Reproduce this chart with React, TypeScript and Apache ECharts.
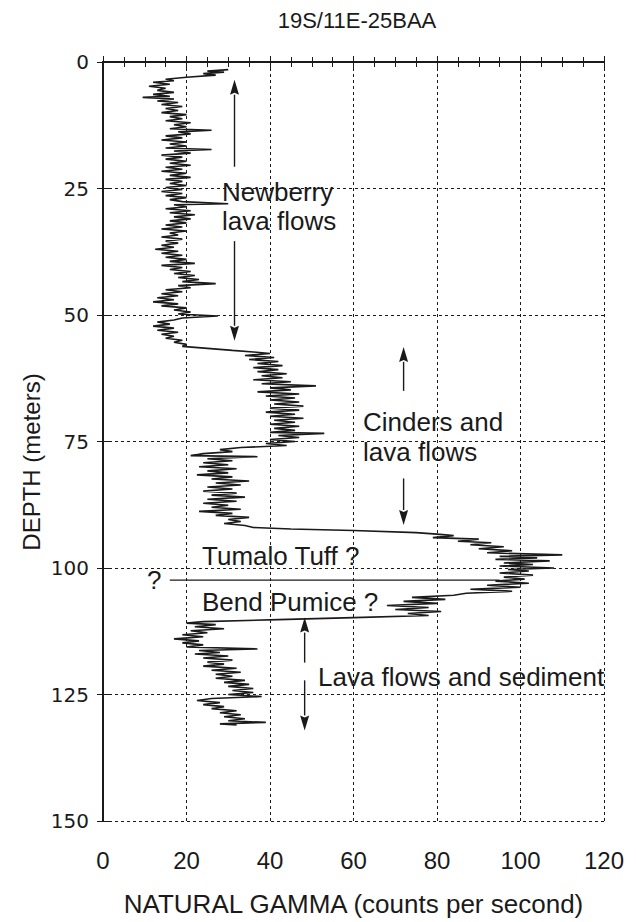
import React, { useEffect, useRef } from "react";
import * as echarts from "echarts";

const chartTitle = "19S/11E-25BAA";
const xAxisName = "NATURAL GAMMA (counts per second)";
const yAxisName = "DEPTH (meters)";

// [depth (m), natural gamma (cps)]
const newberryLog: [number, number][] = [
  [1.5, 30], [1.8, 25], [2.0, 29], [2.3, 24], [2.6, 27], [3.0, 20], [3.4, 15], [3.7, 17], [4.0, 12], [4.4, 16],
  [4.8, 11], [5.2, 15], [5.6, 13], [6.0, 17], [6.4, 12], [6.8, 16], [7.0, 9.5], [7.3, 17], [7.7, 13], [8.0, 18],
  [8.4, 14], [8.8, 19], [9.2, 15], [9.6, 18], [10.0, 14], [10.4, 20], [10.8, 16], [11.2, 19], [11.6, 15], [12.0, 21],
  [12.4, 17], [12.8, 20], [13.2, 16], [13.5, 26], [13.8, 18], [14.2, 21], [14.6, 15], [15.0, 19], [15.4, 14], [15.8, 20],
  [16.2, 16], [16.6, 20], [17.0, 15], [17.3, 26], [17.6, 17], [18.0, 21], [18.4, 14], [18.8, 19], [19.2, 15], [19.6, 20],
  [20.0, 16], [20.4, 21], [20.8, 15], [21.2, 19], [21.6, 14], [22.0, 20], [22.4, 16], [22.8, 21], [23.2, 15], [23.6, 19],
  [24.0, 16], [24.4, 20], [24.8, 15], [25.2, 19], [25.6, 14], [26.0, 19], [26.4, 15], [26.8, 20], [27.2, 16], [27.6, 19],
  [28.0, 30], [28.2, 17], [28.6, 20], [29.0, 15], [29.4, 21], [29.8, 16], [30.2, 22], [30.6, 17], [31.0, 21], [31.4, 16],
  [31.8, 20], [32.2, 15], [32.6, 19], [33.0, 14], [33.4, 20], [33.8, 16], [34.2, 18], [34.6, 14], [35.0, 19], [35.4, 15],
  [35.8, 18], [36.2, 14], [36.6, 17], [37.0, 12.5], [37.4, 18], [37.8, 14], [38.2, 19], [38.6, 15], [39.0, 20], [39.4, 16],
  [39.8, 22], [40.2, 14], [40.6, 19], [41.0, 16], [41.4, 21], [41.8, 17], [42.2, 22], [42.6, 18], [43.0, 23], [43.4, 19],
  [43.8, 27], [44.2, 18], [44.6, 21], [45.0, 15], [45.4, 19], [45.8, 14], [46.2, 18], [46.6, 13], [47.0, 17], [47.4, 12],
  [47.8, 18], [48.2, 14], [48.6, 20], [49.0, 17], [49.4, 21], [49.8, 18], [50.2, 27.5], [50.6, 19], [51.0, 17], [51.4, 13],
  [51.8, 16], [52.2, 12], [52.6, 17], [53.0, 13], [53.4, 18], [53.8, 14], [54.2, 17], [54.6, 15], [55.0, 19], [55.4, 17],
  [55.8, 20], [56.2, 19], [56.6, 25],
];

const cindersLog: [number, number][] = [
  [57.0, 31], [57.3, 36], [57.6, 40], [58.0, 34], [58.4, 41], [58.8, 35], [59.2, 42], [59.6, 37], [60.0, 43], [60.4, 36],
  [60.8, 42], [61.2, 37], [61.6, 44], [62.0, 38], [62.4, 43], [62.8, 36], [63.2, 45], [63.6, 38], [64.0, 51], [64.4, 40],
  [64.8, 45], [65.2, 37], [65.6, 47], [66.0, 39], [66.4, 46], [66.8, 40], [67.2, 47], [67.6, 41], [68.0, 48], [68.4, 40],
  [68.8, 47], [69.2, 39], [69.6, 46], [70.0, 40], [70.4, 48], [70.8, 41], [71.2, 46], [71.6, 40], [72.0, 47], [72.4, 41],
  [72.8, 46], [73.2, 40], [73.4, 53], [73.8, 42], [74.2, 47], [74.6, 40], [75.0, 46], [75.4, 39], [75.8, 44], [76.2, 33],
  [76.6, 28], [77.0, 31], [77.4, 24], [77.8, 21], [78.0, 37], [78.4, 25], [78.8, 31], [79.2, 24], [79.6, 30], [80.0, 23],
  [80.4, 32], [80.8, 25], [81.2, 30], [81.6, 22.5], [82.0, 31], [82.4, 26], [82.8, 35], [83.2, 27], [83.6, 33], [84.0, 25],
  [84.4, 31], [84.8, 24], [85.2, 32], [85.6, 26], [86.0, 34], [86.4, 25], [86.8, 32], [87.2, 24], [87.6, 30], [88.0, 26],
  [88.4, 33], [88.8, 23], [89.2, 31], [89.6, 27], [90.0, 35], [90.4, 30], [90.8, 33], [91.2, 29], [91.6, 34], [92.0, 36],
];

const tuffPumiceLog: [number, number][] = [
  [92.3, 45], [92.6, 60], [93.0, 75], [93.3, 80], [93.6, 84], [94.0, 79], [94.3, 90], [94.7, 85], [95.0, 93], [95.4, 88],
  [95.8, 96], [96.2, 90], [96.6, 98], [97.0, 92], [97.4, 110], [97.7, 95], [98.0, 104], [98.3, 94], [98.6, 107], [99.0, 96],
  [99.3, 103], [99.6, 95], [100.0, 108], [100.3, 97], [100.6, 102], [101.0, 95], [101.4, 103], [101.8, 96], [102.2, 101], [102.6, 94],
  [103.0, 102], [103.4, 92], [103.8, 100], [104.2, 88], [104.6, 98], [105.0, 87], [105.4, 84], [105.8, 74], [106.2, 82], [106.6, 72],
  [107.0, 80], [107.4, 68], [107.8, 78], [108.2, 70], [108.6, 81], [109.0, 73], [109.4, 78], [109.8, 60], [110.2, 42],
];

const lowerLog: [number, number][] = [
  [110.6, 24], [110.9, 20], [111.2, 27], [111.6, 22], [112.0, 29], [112.4, 21], [112.8, 25], [113.2, 19], [113.6, 24], [114.0, 17],
  [114.4, 23], [114.8, 19], [115.2, 24], [115.6, 20], [116.0, 37], [116.3, 23], [116.7, 28], [117.0, 22], [117.4, 30], [117.8, 24],
  [118.2, 31], [118.6, 25], [119.0, 29], [119.4, 24], [119.8, 32], [120.2, 26], [120.6, 33], [121.0, 27], [121.4, 31], [121.8, 27],
  [122.2, 34], [122.6, 29], [123.0, 35], [123.4, 30], [123.8, 36], [124.2, 31], [124.6, 36], [125.0, 30], [125.4, 38], [125.8, 26],
  [126.2, 22.5], [126.6, 28], [127.0, 24], [127.4, 29], [127.8, 26], [128.2, 32], [128.6, 28], [129.0, 33], [129.4, 29], [129.8, 34],
  [130.2, 30], [130.5, 39], [130.8, 28], [131.0, 32],
];

// arrows: [gamma, tail depth, head depth]
const arrows: [number, number, number][] = [
  [31.5, 20.7, 3.5],
  [31.5, 35.4, 55.1],
  [72, 65, 56.3],
  [72, 82.3, 91.5],
  [48.3, 118.7, 109.8],
  [48.3, 122.2, 132.1],
];

// boundary line for "?" contact: [gamma, depth]
const contactLine: [number, number][] = [
  [16, 102.4],
  [95, 102.4],
];

const FONT = "'Liberation Sans', Arial, Helvetica, sans-serif";
const INK = "#1a1a1a";

const notes = [
  { text: "Newberry", x: 222, y: 192 },
  { text: "lava flows", x: 222, y: 221 },
  { text: "Cinders and", x: 363, y: 422 },
  { text: "lava flows", x: 363, y: 452 },
  { text: "Tumalo Tuff ?", x: 202, y: 556 },
  { text: "?", x: 147, y: 580 },
  { text: "Bend Pumice ?", x: 202, y: 602 },
  { text: "Lava flows and sediment", x: 318, y: 677 },
];

export default function App() {
  const ref = useRef<HTMLDivElement>(null);
  useEffect(() => {
    document.body.style.margin = "0";
    if (!ref.current) return;
    const chart = echarts.init(ref.current, undefined, { renderer: "svg" });
    const logData = [...newberryLog, ...cindersLog, ...tuffPumiceLog, ...lowerLog].map(([d, g]) => [g, d]);

    const axisLine = { show: true, lineStyle: { color: INK, width: 2 } };
    const dashed = { show: true, lineStyle: { color: INK, width: 1, type: [3, 3] as any } };

    chart.setOption({
      animation: false,
      backgroundColor: "#fff",
      title: {
        text: chartTitle,
        left: 352,
        top: 4,
        textAlign: "center",
        textStyle: { fontFamily: FONT, fontSize: 22, fontWeight: "normal", color: INK },
      },
      grid: { left: 103, right: 32, top: 62, bottom: 98, containLabel: false },
      xAxis: [
        {
          type: "value",
          position: "bottom",
          min: 0,
          max: 120,
          interval: 20,
          axisLine,
          axisTick: { show: true, inside: true, length: 6, lineStyle: { color: INK, width: 1 } },
          minorTick: { show: true, splitNumber: 4, length: 5, lineStyle: { color: INK, width: 1 } },
          axisLabel: { fontFamily: FONT, fontSize: 24, color: INK, margin: 27 },
          splitLine: dashed,
          name: xAxisName,
          nameLocation: "middle",
          nameGap: 70,
          nameTextStyle: { fontFamily: FONT, fontSize: 26, color: INK },
        },
        {
          type: "value",
          position: "top",
          min: 0,
          max: 120,
          interval: 20,
          axisLine,
          axisTick: { show: true, inside: true, length: 6, lineStyle: { color: INK, width: 1 } },
          minorTick: { show: true, splitNumber: 4, length: 5, lineStyle: { color: INK, width: 1 } },
          axisLabel: { show: false },
          splitLine: { show: false },
        },
      ],
      yAxis: [
        {
          type: "value",
          position: "left",
          inverse: true,
          min: 0,
          max: 150,
          interval: 25,
          axisLine,
          axisTick: { show: true, inside: true, length: 6, lineStyle: { color: INK, width: 1 } },
          axisLabel: { fontFamily: "'DejaVu Sans', sans-serif", fontSize: 20, color: INK, margin: 14 },
          splitLine: dashed,
        },
        {
          type: "value",
          position: "right",
          inverse: true,
          min: 0,
          max: 150,
          interval: 25,
          axisLine,
          axisTick: { show: true, inside: true, length: 6, lineStyle: { color: INK, width: 1 } },
          axisLabel: { show: false },
          splitLine: { show: false },
        },
      ],
      graphic: [
        {
          type: "text",
          rotation: Math.PI / 2,
          x: 31,
          y: 462,
          style: {
            text: yAxisName,
            fontFamily: FONT,
            fontSize: 24,
            fill: INK,
            textAlign: "center",
            textVerticalAlign: "middle",
          },
        },
        ...notes.map((n) => ({
          type: "text",
          x: n.x,
          y: n.y,
          style: {
            text: n.text,
            fontFamily: FONT,
            fontSize: 26,
            fill: INK,
            textAlign: "left",
            textVerticalAlign: "middle",
          },
        })),
      ],
      series: [
        {
          type: "line",
          name: "Natural gamma",
          xAxisIndex: 0,
          yAxisIndex: 0,
          data: logData,
          symbol: "none",
          lineStyle: { color: INK, width: 1.6 },
          z: 5,
        },
        {
          type: "line",
          name: "Contact",
          xAxisIndex: 0,
          yAxisIndex: 0,
          data: contactLine,
          symbol: "none",
          lineStyle: { color: INK, width: 1.2 },
          z: 4,
        },
        {
          type: "custom",
          name: "Arrows",
          xAxisIndex: 0,
          yAxisIndex: 0,
          data: arrows,
          encode: { x: 0, y: [1, 2] },
          z: 6,
          renderItem: (_params: any, api: any) => {
            const gx = api.value(0);
            const p1 = api.coord([gx, api.value(1)]);
            const p2 = api.coord([gx, api.value(2)]);
            const dir = p2[1] > p1[1] ? 1 : -1;
            const headLen = 15;
            const half = 4.5;
            const base = p2[1] - dir * headLen;
            return {
              type: "group",
              children: [
                {
                  type: "line",
                  shape: { x1: p1[0], y1: p1[1], x2: p2[0], y2: base },
                  style: { stroke: INK, lineWidth: 1.4 },
                },
                {
                  type: "polygon",
                  shape: {
                    points: [
                      [p2[0], p2[1]],
                      [p2[0] - half, base],
                      [p2[0], base + dir * 2],
                      [p2[0] + half, base],
                    ],
                  },
                  style: { fill: INK },
                },
              ],
            };
          },
        },
      ],
    });
    return () => chart.dispose();
  }, []);
  return <div ref={ref} style={{ position: "absolute", left: 0, top: 0, width: 636, height: 922 }} />;
}
